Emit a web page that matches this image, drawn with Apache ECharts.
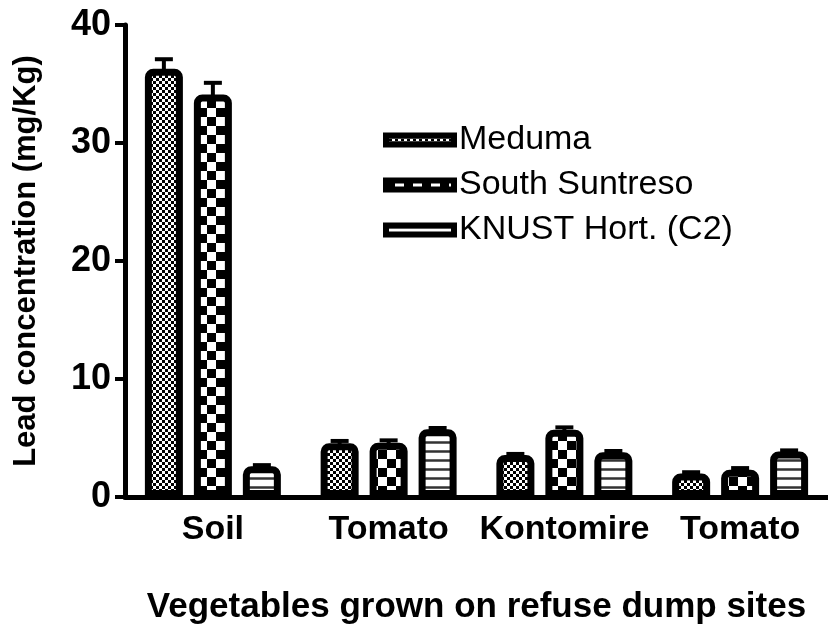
<!DOCTYPE html>
<html>
<head>
<meta charset="utf-8">
<script src="https://cdn.jsdelivr.net/npm/echarts@6/dist/echarts.min.js"></script>
<style>
  html, body { margin: 0; padding: 0; background: #fff; }
  #chart { width: 828px; height: 630px; }
</style>
</head>
<body>
<div id="chart"></div>
<script>
// categories and series values (mean lead concentration, mg/Kg)
var categories = ["Soil", "Tomato", "Kontomire", "Tomato"];
var seriesNames = ["Meduma", "South Suntreso", "KNUST Hort. (C2)"];
var meduma = [36.3, 4.55, 3.55, 2.0];
var southSuntreso = [34.1, 4.6, 5.7, 2.3];
var knust = [2.6, 5.75, 3.8, 3.85];
// upper error
var medumaErr = [0.8, 0.2, 0.1, 0.1];
var southSuntresoErr = [1.0, 0.2, 0.2, 0.15];
var knustErr = [0.1, 0.1, 0.1, 0.1];
var yTicks = [0, 10, 20, 30, 40];

var FONT = "'Liberation Sans', Arial, sans-serif";

// fill patterns
function checker(cell) {
  var c = document.createElement("canvas");
  c.width = cell * 2; c.height = cell * 2;
  var ctx = c.getContext("2d");
  ctx.fillStyle = "#fff"; ctx.fillRect(0, 0, c.width, c.height);
  ctx.fillStyle = "#000";
  ctx.fillRect(0, 0, cell, cell);
  ctx.fillRect(cell, cell, cell, cell);
  return c;
}
function stripes() {
  var c = document.createElement("canvas");
  c.width = 9; c.height = 9;
  var ctx = c.getContext("2d");
  ctx.fillStyle = "#fff"; ctx.fillRect(0, 0, 9, 9);
  ctx.fillStyle = "#999"; ctx.fillRect(0, 0, 9, 3);
  ctx.fillStyle = "#333"; ctx.fillRect(0, 0.5, 9, 2);
  return c;
}
var patterns = [
  { image: checker(3), repeat: "repeat" },
  { image: checker(9), repeat: "repeat" },
  { image: stripes(), repeat: "repeat" }
];

var values = [meduma, southSuntreso, knust];
var errs = [medumaErr, southSuntresoErr, knustErr];

var BAR_W = 38;
var BAR_STEP = 49;

var errData = [];
for (var k = 0; k < 3; k++) {
  for (var i = 0; i < categories.length; i++) {
    errData.push([i, values[k][i], errs[k][i], k]);
  }
}

var chart = echarts.init(document.getElementById("chart"));

var series = seriesNames.map(function (name, k) {
  return {
    name: name,
    type: "bar",
    data: values[k],
    barWidth: BAR_W,
    barGap: ((BAR_STEP - BAR_W) / BAR_W * 100).toFixed(1) + "%",
    z: 3,
    itemStyle: {
      color: patterns[k],
      borderColor: "#000",
      borderWidth: 7,
      borderRadius: [5, 5, 0, 0]
    },
    emphasis: { disabled: true }
  };
});

series.push({
  type: "custom",
  z: 2,
  silent: true,
  data: errData,
  renderItem: function (params, api) {
    var cat = api.value(0);
    var v = api.value(1);
    var e = api.value(2);
    var k = api.value(3);
    var base = api.coord([cat, v]);
    var top = api.coord([cat, v + e]);
    var x = base[0] + (k - 1) * BAR_STEP;
    return {
      type: "group",
      children: [
        { type: "line", shape: { x1: x, y1: base[1] + 4, x2: x, y2: top[1] },
          style: { stroke: "#000", lineWidth: 4 } },
        { type: "line", shape: { x1: x - 9, y1: top[1], x2: x + 9, y2: top[1] },
          style: { stroke: "#000", lineWidth: 4 } }
      ]
    };
  }
});

chart.setOption({
  animation: false,
  backgroundColor: "#fff",
  grid: { left: 125, right: -13, top: 25, bottom: 133, containLabel: false },
  legend: {
    data: seriesNames,
    orient: "vertical",
    left: 383,
    top: 123,
    padding: 0,
    itemWidth: 68,
    itemHeight: 9,
    itemGap: 11,
    icon: "rect",
    itemStyle: { borderColor: "#000", borderWidth: 6 },
    textStyle: { fontFamily: FONT, fontSize: 34, color: "#000", lineHeight: 32 },
    selectedMode: false
  },
  xAxis: {
    type: "category",
    data: categories,
    name: "Vegetables grown on refuse dump sites",
    nameLocation: "middle",
    nameGap: 93,
    nameTextStyle: { fontFamily: FONT, fontSize: 35, fontWeight: "bold", color: "#000" },
    axisLine: { lineStyle: { color: "#000", width: 5 } },
    axisTick: { show: false },
    axisLabel: { interval: 0, fontFamily: FONT, fontSize: 34, fontWeight: "bold", color: "#000", margin: 16 },
    splitLine: { show: false }
  },
  yAxis: {
    type: "value",
    min: yTicks[0],
    max: yTicks[yTicks.length - 1],
    interval: 10,
    name: "Lead concentration (mg/Kg)",
    nameLocation: "middle",
    nameRotate: 90,
    nameGap: 83,
    nameTextStyle: { fontFamily: FONT, fontSize: 31, fontWeight: "bold", color: "#000" },
    axisLine: { show: true, lineStyle: { color: "#000", width: 5 } },
    axisTick: { show: true, length: 10, lineStyle: { color: "#000", width: 4 } },
    axisLabel: { fontFamily: FONT, fontSize: 36, fontWeight: "bold", color: "#000", margin: 14 },
    splitLine: { show: false }
  },
  series: series
});
</script>
</body>
</html>
